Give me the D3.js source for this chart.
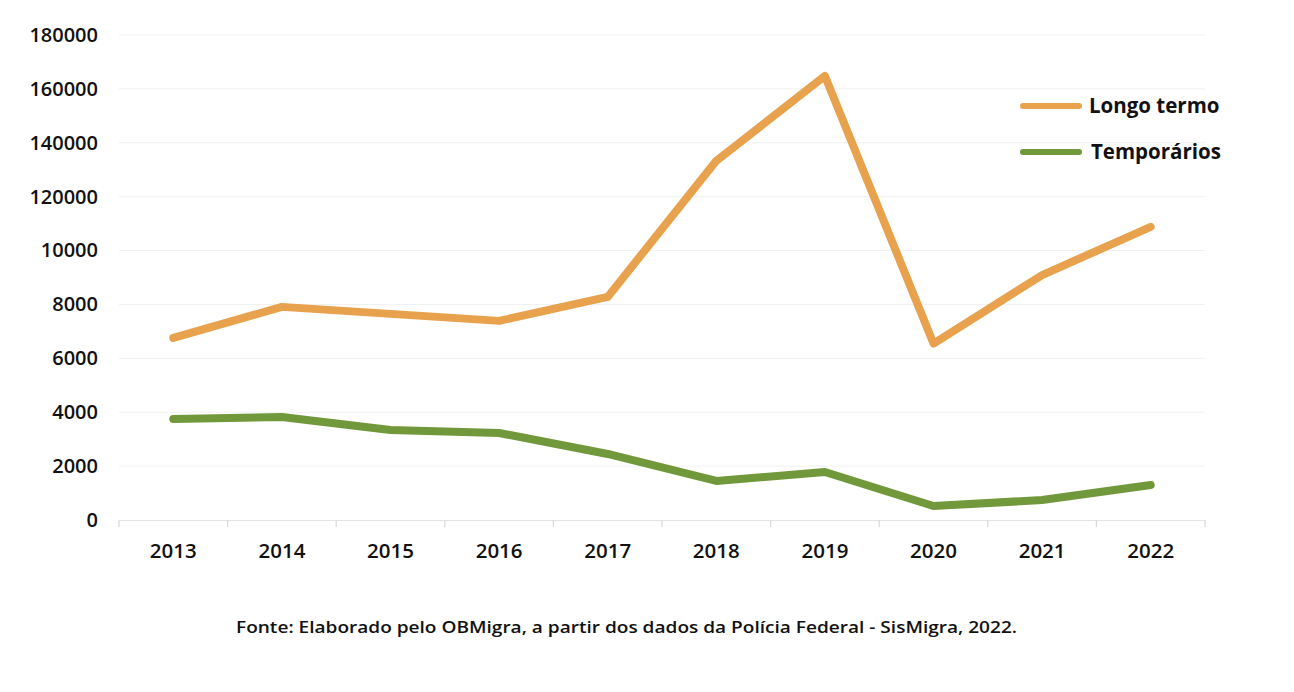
<!DOCTYPE html>
<html>
<head>
<meta charset="utf-8">
<script src="https://cdn.jsdelivr.net/npm/d3@7"></script>
<style>
  html, body { margin: 0; padding: 0; background: #fff; }
  svg { display: block; font-family: "Open Sans", "Noto Sans", sans-serif; }
</style>
</head>
<body>
<svg id="chart" width="1294" height="692"></svg>
<script>
const years = ["2013","2014","2015","2016","2017","2018","2019","2020","2021","2022"];
const longoTermo = [67600, 79100, 76500, 73900, 82800, 133300, 164800, 65500, 90900, 108800];
const temporarios = [37500, 38200, 33400, 32300, 24500, 14500, 17800, 5200, 7400, 13000];
const yTickValues = [0, 20000, 40000, 60000, 80000, 100000, 120000, 140000, 160000, 180000];
const yTickLabels = ["0", "2000", "4000", "6000", "8000", "10000", "120000", "140000", "160000", "180000"];
const seriesNames = ["Longo termo", "Temporários"];
const seriesColors = ["#E8A24E", "#72983C"];
const sourceText = "Fonte: Elaborado pelo OBMigra, a partir dos dados da Polícia Federal - SisMigra, 2022.";

(function () {
const svg = d3.select("#chart");
const mLeft = 119, mRight = 1205, mTop = 35, mBottom = 520;

const x = d3.scaleBand().domain(years).range([mLeft, mRight]);
const y = d3.scaleLinear().domain([0, 180000]).range([mBottom, mTop]);

// gridlines
svg.append("g").selectAll("line").data(yTickValues.slice(1)).join("line")
  .attr("x1", mLeft).attr("x2", mRight)
  .attr("y1", d => y(d)).attr("y2", d => y(d))
  .attr("stroke", "#f1f1f1").attr("stroke-width", 1);

// y axis labels
const yAxis = d3.axisLeft(y).tickValues(yTickValues)
  .tickFormat((d, i) => yTickLabels[i]).tickSize(0).tickPadding(0);
const gy = svg.append("g").attr("transform", `translate(98,0)`).call(yAxis);
gy.select(".domain").remove();
gy.selectAll("text").attr("font-size", 20).attr("font-weight", 600)
  .attr("fill", "#111").attr("font-family", "'Open Sans', sans-serif");

// x axis
const xAxis = d3.axisBottom(x).tickSize(0).tickPadding(0);
const gx = svg.append("g").attr("transform", `translate(0,${mBottom})`).call(xAxis);
gx.select(".domain").attr("stroke", "#e4e4e4");
gx.selectAll("text").attr("font-size", 20.5).attr("font-weight", 600)
  .attr("fill", "#111").attr("dy", "0").attr("y", 37.5)
  .attr("font-family", "'Open Sans', sans-serif");
// boundary ticks
const bounds = years.map(d => x(d)).concat([x(years[years.length - 1]) + x.bandwidth()]);
svg.append("g").selectAll("line").data(bounds).join("line")
  .attr("x1", d => d).attr("x2", d => d)
  .attr("y1", mBottom).attr("y2", mBottom + 7)
  .attr("stroke", "#d9d9d9").attr("stroke-width", 1.2);

// lines
const line = d3.line().x((d, i) => x(years[i]) + x.bandwidth() / 2).y(d => y(d));
[longoTermo, temporarios].forEach((s, k) => {
  svg.append("path").datum(s).attr("d", line)
    .attr("fill", "none").attr("stroke", seriesColors[k])
    .attr("stroke-width", 8).attr("stroke-linecap", "round")
    .attr("stroke-linejoin", "round");
});

// legend
const leg = svg.append("g");
seriesNames.forEach((n, i) => {
  const ly = 106 + i * 46;
  leg.append("line").attr("x1", 1023).attr("x2", 1079)
    .attr("y1", ly).attr("y2", ly)
    .attr("stroke", seriesColors[i]).attr("stroke-width", 6).attr("stroke-linecap", "round");
  leg.append("text").attr("x", 1089 + i * 2).attr("y", ly).attr("dy", "0.35em")
    .attr("font-size", 20.5).attr("font-weight", 700).attr("fill", "#111").text(n);
});

// source
svg.append("text").attr("x", 236).attr("y", 633)
  .attr("font-size", 17).attr("font-weight", 600).attr("fill", "#111")
  .attr("textLength", 781).attr("lengthAdjust", "spacingAndGlyphs")
  .text(sourceText);
})();
</script>
</body>
</html>
